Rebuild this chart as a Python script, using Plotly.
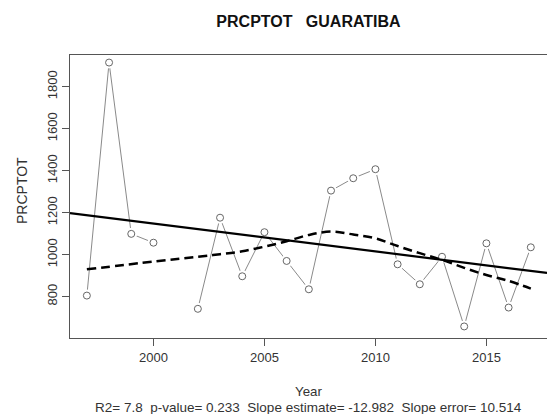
import plotly.graph_objects as go

# ---- data ----
years = [1997, 1998, 1999, 2000, 2001, 2002, 2003, 2004, 2005, 2006, 2007,
         2008, 2009, 2010, 2011, 2012, 2013, 2014, 2015, 2016, 2017]
prcptot = [805, 1915, 1099, 1057, None, 742, 1176, 897, 1107, 970, 835,
           1305, 1364, 1407, 954, 859, 990, 658, 1054, 748, 1035]

smooth_years = [1997, 2000, 2002, 2003, 2004, 2005, 2006, 2007, 2008, 2009,
                2010, 2011, 2012, 2013, 2014, 2015, 2016, 2017]
smooth_vals = [930, 967, 990, 1002, 1016, 1038, 1064, 1094, 1110, 1096,
               1078, 1041, 1007, 975, 937, 903, 875, 838]

trend_years = [1996.24, 2017.73]
trend_vals = [1198, 913]

x_ticks = [2000, 2005, 2010, 2015]
y_ticks = [800, 1000, 1200, 1400, 1600, 1800]

title_text = "PRCPTOT\u00a0\u00a0\u00a0GUARATIBA"
x_title = "Year"
y_title = "PRCPTOT"
stats_text = ("R2= 7.8\u00a0\u00a0p-value= 0.233\u00a0\u00a0Slope estimate= -12.982"
              "\u00a0\u00a0Slope error= 10.514")

FONT = "Liberation Sans, Arial, sans-serif"

fig = go.Figure()
# data line (type="b" look: line, white gaps, open circles)
fig.add_trace(go.Scatter(x=years, y=prcptot, mode="lines",
                         line=dict(color="#8a8a8a", width=1),
                         connectgaps=False, hoverinfo="skip", showlegend=False))
fig.add_trace(go.Scatter(x=years, y=prcptot, mode="markers",
                         marker=dict(size=12, color="white", line=dict(width=0)),
                         hoverinfo="skip", showlegend=False))
fig.add_trace(go.Scatter(x=years, y=prcptot, mode="markers",
                         marker=dict(size=7, color="#666666", symbol="circle-open",
                                     line=dict(color="#666666", width=1)),
                         showlegend=False))
# linear trend
fig.add_trace(go.Scatter(x=trend_years, y=trend_vals, mode="lines",
                         line=dict(color="black", width=2.2), showlegend=False))
# smooth (dashed)
fig.add_trace(go.Scatter(x=smooth_years, y=smooth_vals, mode="lines",
                         line=dict(color="black", width=2.5, dash="9px,5px", shape="spline"),
                         showlegend=False))

fig.update_layout(
    width=547, height=414,
    margin=dict(l=70, r=0, t=55, b=76),
    paper_bgcolor="white", plot_bgcolor="white",
    font=dict(family=FONT, size=13, color="#222222"),
    title=dict(text="<b>" + title_text + "</b>", x=0.5, xref="paper",
               y=1 - 21 / 414, yref="container", yanchor="middle",
               font=dict(family=FONT, size=16, color="#111111")),
    xaxis=dict(range=[1996.24, 2017.73], tickvals=x_ticks, ticks="outside", ticklen=7,
               tickcolor="#555555", showline=True, linecolor="#555555", linewidth=1,
               mirror=True, showgrid=False, zeroline=False,
               tickfont=dict(size=13, color="#333333")),
    yaxis=dict(range=[603, 1951], tickvals=y_ticks, ticks="outside", ticklen=7,
               tickcolor="#555555", showline=True, linecolor="#555555", linewidth=1,
               mirror=False, showgrid=False, zeroline=False, tickangle=-90,
               tickfont=dict(size=13, color="#333333")),
    annotations=[
        dict(text=x_title, xref="paper", yref="paper", x=0.5, y=(338 - 391) / 283,
             showarrow=False, yanchor="middle", font=dict(size=13.3, color="#333333")),
        dict(text=stats_text, xref="paper", yref="paper", x=0.5, y=(338 - 407) / 283,
             showarrow=False, yanchor="middle", font=dict(size=13.5, color="#333333")),
        dict(text=y_title, xref="paper", yref="paper", x=(22 - 70) / 477, y=(338 - 191) / 283,
             showarrow=False, textangle=-90, xanchor="center", yanchor="middle",
             font=dict(size=14, color="#333333")),
    ],
)

fig.write_html("out.html")
